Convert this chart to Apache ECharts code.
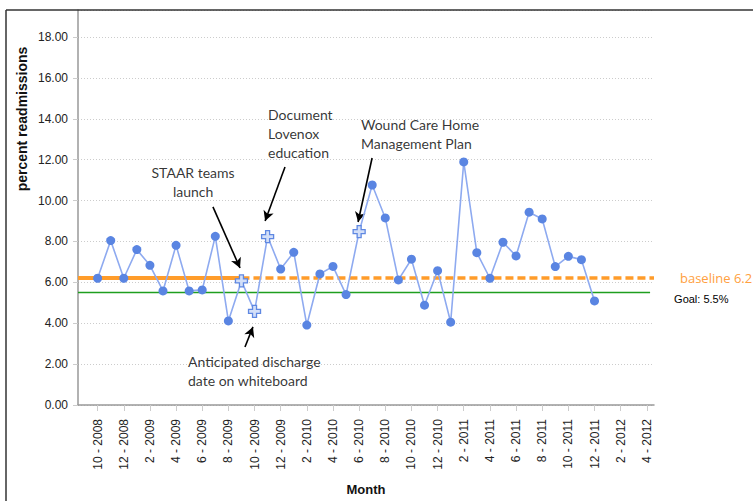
<!DOCTYPE html>
<html><head><meta charset="utf-8">
<script src="https://cdn.jsdelivr.net/npm/echarts@6/dist/echarts.min.js"></script>
<style>html,body{margin:0;padding:0;background:#fff}#c{width:753px;height:501px}</style>
</head><body><div id="c"></div>
<script>
// Tick labels every 2 months (Oct 2008 .. Apr 2012)
const tickLabels = ['10 - 2008','12 - 2008','2 - 2009','4 - 2009','6 - 2009','8 - 2009','10 - 2009','12 - 2009','2 - 2010','4 - 2010','6 - 2010','8 - 2010','10 - 2010','12 - 2010','2 - 2011','4 - 2011','6 - 2011','8 - 2011','10 - 2011','12 - 2011','2 - 2012','4 - 2012'];
// Monthly percent readmissions, Oct 2008 .. Dec 2011
const readmissions = [6.20,8.04,6.20,7.60,6.83,5.58,7.81,5.58,5.63,8.25,4.11,6.07,4.58,8.24,6.65,7.47,3.91,6.41,6.78,5.40,8.48,10.76,9.15,6.12,7.13,4.88,6.57,4.05,11.89,7.45,6.20,7.96,7.29,9.43,9.10,6.77,7.27,7.11,5.09];
// months (index from Oct 2008) with intervention markers
const interventionIdx = [11,12,13,20];
const baseline = 6.2;
const goal = 5.5;
const baselineSolidUntil = 11;
const yTicks = [0,2,4,6,8,10,12,14,16,18];
// annotations: text, arrow from/to (month index, value), text anchor
const annTexts = ['STAAR teams\nlaunch','Document\nLovenox\neducation','Wound Care Home\nManagement Plan','Anticipated discharge\ndate on whiteboard'];
const annAnchor = [[7.30,10.9,'center'],[13.03,13.26,'left'],[20.14,13.26,'left'],[6.91,1.66,'left']];
const annArrows = [[[8.82,9.69],[10.89,6.70]],[[14.33,11.64],[12.81,9.00]],[[20.99,12.08],[19.92,8.95]],[[11.27,2.84],[11.88,3.82]]];

const X_MIN = -1.5, X_MAX = 42.55;
const tickPos = tickLabels.map((_, k) => 2 * k);

const plusPath = 'path://M4,0 H8 V4 H12 V8 H8 V12 H4 V8 H0 V4 H4 Z';

const seriesData = readmissions.map((v, i) => {
  if (interventionIdx.includes(i)) {
    return { value: [i, v], symbol: plusPath, symbolSize: 12,
      itemStyle: { color: '#d3dff8', borderColor: '#5f88e2', borderWidth: 1.3 } };
  }
  return [i, v];
});

const annFont = { fontFamily: 'Lato', fontSize: 14, lineHeight: 19, color: '#000' };

const chart = echarts.init(document.getElementById('c'), null, { renderer: 'svg' });
chart.setOption({
  animation: false,
  grid: { left: 78, right: 99, top: 10, bottom: 96, containLabel: false, outerBoundsMode: 'none' },
  xAxis: {
    type: 'value', min: X_MIN, max: X_MAX,
    name: 'Month', nameLocation: 'middle', nameGap: 78,
    nameTextStyle: { fontFamily: 'Liberation Sans', fontWeight: 'bold', fontSize: 13, color: '#111' },
    axisLine: { show: true, onZero: false, lineStyle: { color: '#999', width: 1.5 } },
    axisTick: { show: true, customValues: tickPos, length: 6, lineStyle: { color: '#ccc' } },
    axisLabel: { customValues: tickPos, rotate: 90, margin: 14, fontFamily: 'Liberation Sans', fontSize: 12, color: '#222',
      formatter: v => tickLabels[Math.round(v / 2)] || '' },
    splitLine: { show: false }
  },
  yAxis: {
    type: 'value', min: 0, max: 19.32, interval: 2,
    axisLine: { show: true, onZero: false, lineStyle: { color: '#999', width: 1.5 } },
    axisTick: { show: true, length: 5, lineStyle: { color: '#ccc' } },
    axisLabel: { fontFamily: 'Liberation Sans', fontSize: 12, color: '#222', margin: 10,
      showMaxLabel: false,
      formatter: v => yTicks.includes(Math.round(v * 100) / 100) ? v.toFixed(2) : '' },
    splitLine: { show: true, lineStyle: { color: '#ccc', type: [1, 2], width: 1 } }
  },
  series: [
    {
      type: 'line', data: [], silent: true,
      markLine: {
        silent: true, symbol: 'none', animation: false,
        lineStyle: { color: '#ff9c2a' },
        data: [
          [{ coord: [X_MIN, baseline], lineStyle: { color: '#ff9c2a', width: 4, type: 'solid' }, label: { show: false } },
           { coord: [baselineSolidUntil, baseline] }],
          [{ coord: [baselineSolidUntil, baseline], lineStyle: { color: '#ff9c2a', width: 3.5, type: [8, 4] },
             label: { show: true, position: 'end', distance: 26, formatter: 'baseline 6.2', color: '#ffa040', fontSize: 13, fontFamily: 'Open Sans' } },
           { coord: [X_MAX, baseline] }]
        ]
      }
    },
    {
      type: 'line', data: [], silent: true,
      markLine: {
        silent: true, symbol: 'none', animation: false,
        lineStyle: { color: '#1f9e1f', width: 1.3, type: 'solid' },
        label: { show: true, position: 'end', distance: 24, offset: [0, 6], formatter: 'Goal: 5.5%', color: '#000', fontSize: 11, fontFamily: 'Liberation Sans' },
        data: [[{ coord: [X_MIN, goal] }, { coord: [X_MAX - 0.3, goal] }]]
      }
    },
    {
      type: 'line', data: seriesData, z: 5,
      symbol: 'circle', symbolSize: 9,
      lineStyle: { color: '#8eaaf0', width: 1.6 },
      itemStyle: { color: '#5a85e2' }
    },
    {
      type: 'line', data: [], silent: true,
      markLine: {
        silent: true, symbol: ['none', 'arrow'], symbolSize: [8, 10], animation: false,
        lineStyle: { color: '#000', width: 1.6, type: 'solid' }, label: { show: false },
        data: annArrows.map(a => [{ coord: a[0] }, { coord: a[1] }])
      }
    },
    {
      type: 'scatter', silent: true, symbolSize: 0,
      data: annAnchor.map((a, i) => ({
        value: [a[0], a[1]], name: annTexts[i],
        label: Object.assign({ show: true, position: [0, 0], align: a[2], verticalAlign: 'middle',
          formatter: annTexts[i] }, annFont)
      }))
    }
  ],
  graphic: [
    { type: 'line', shape: { x1: 6, y1: 10, x2: 753, y2: 10 }, style: { stroke: '#333', lineWidth: 1.5 }, z: 100 },
    { type: 'line', shape: { x1: 6, y1: 10, x2: 6, y2: 501 }, style: { stroke: '#333', lineWidth: 1.5 }, z: 100 },
    { type: 'text', x: 22, y: 119, rotation: Math.PI / 2,
      style: { text: 'percent readmissions', font: 'bold 14px "Liberation Sans"', fill: '#111', align: 'center', verticalAlign: 'middle' } }
  ]
});
</script></body></html>
